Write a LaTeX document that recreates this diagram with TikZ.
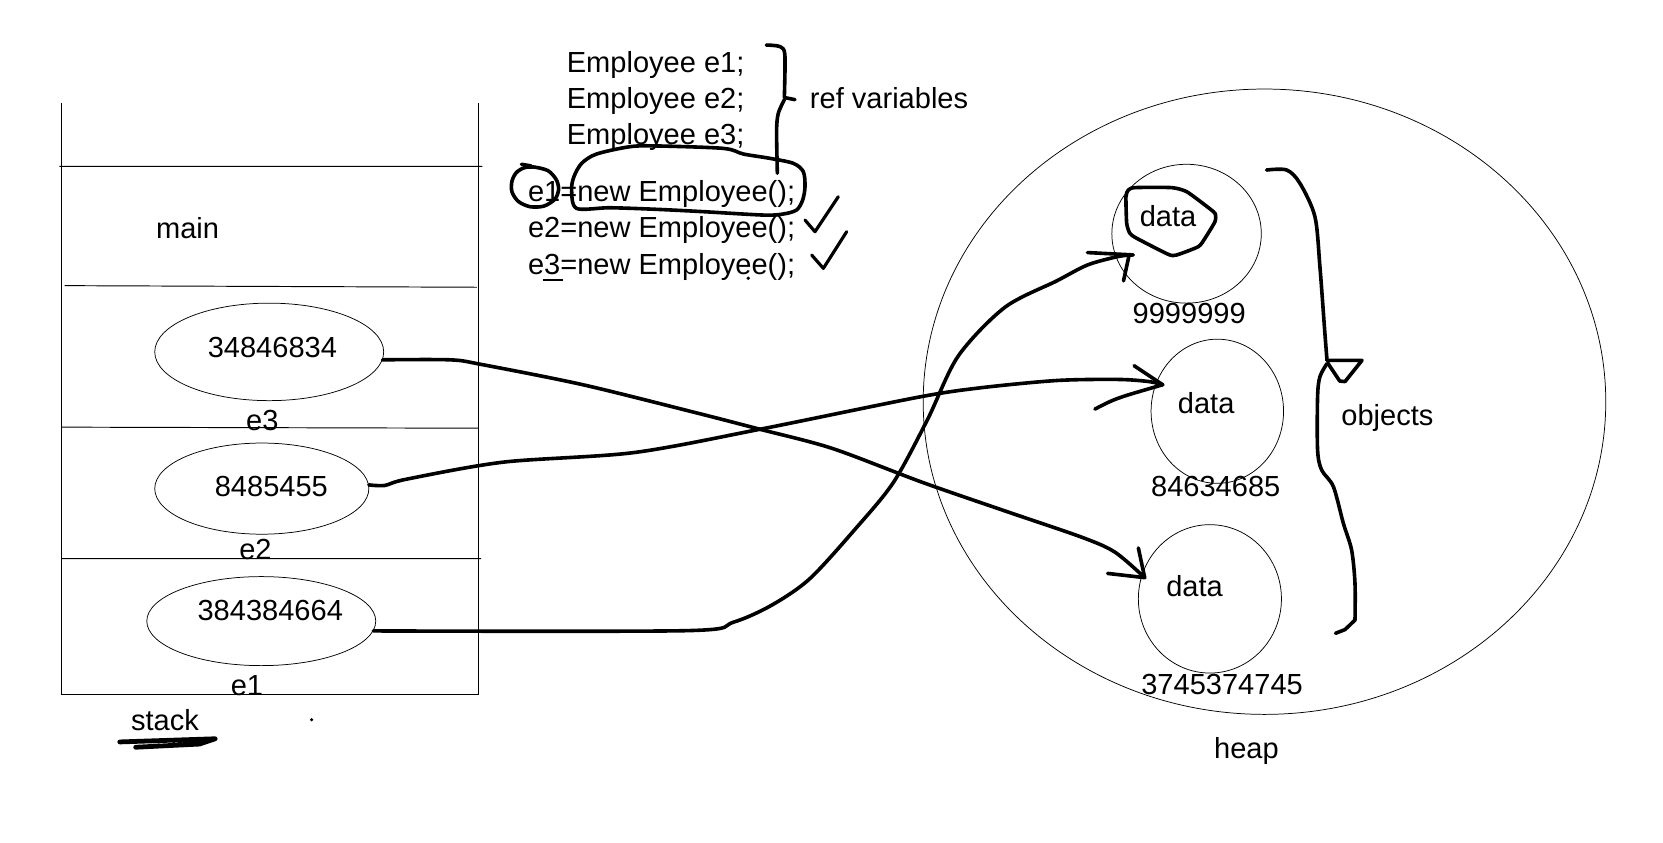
\documentclass[tikz,border=0pt]{standalone}
\usepackage{fontspec}
\setmainfont{Liberation Sans}
\usetikzlibrary{shapes.geometric}
\begin{document}
\begin{tikzpicture}[x=1pt,y=-1pt,
    every node/.style={inner sep=0pt,font=\fontsize{27.4}{33}\selectfont},
    stackline/.style={line width=0.9pt},
    ring/.style={draw,ellipse,line width=0.7pt},
    inkpen/.style={line width=3.4pt,line cap=round,line join=round}]
  \useasboundingbox (0,0) rectangle (1569,795);
  % stack
  \draw[stackline] (58,97) -- (58,655) -- (451.3,655) -- (451.3,97);
  \draw[stackline] (56,157) -- (455,157) (61,269.5) -- (450,271)
  (58,403) -- (451,404) (58,527) -- (454,527);
  \node (main) at (177,215) {main};
  \node[ring,minimum width=216pt,minimum height=92pt] (s3) at (254,332) {};
  \node[ring,minimum width=202pt,minimum height=86pt] (s2) at (247,461) {};
  \node[ring,minimum width=216pt,minimum height=84pt] (s1) at (246.5,586) {};
  \node (v3) at (257,328) {34846834};
  \node (v2) at (256,459) {8485455};
  \node (v1) at (255,576) {384384664};
  \node (e3) at (247.5,397) {e3};
  \node (e2) at (241,518) {e2};
  \node (e1) at (233,646.5) {e1};
  \node (stack) at (155.7,679) {stack};
  \draw[inkpen,line width=4.5pt] (113,700) -- (203,697) -- (188,702) -- (128,705);
  \fill (294,679) circle (1.6pt);
  % code
  \node[anchor=base west] (decl1) at (534.6,68.6) {Employee e1;};
  \node[anchor=base west] (decl2) at (534.6,102.8) {Employee e2;};
  \node[anchor=base west] (decl3) at (534.6,136.8) {Employee e3;};
  \node[anchor=base west] (init1) at (498,190) {e1=new Employee();};
  \node[anchor=base west] (init2) at (498,224.5) {e2=new Employee();};
  \node[anchor=base west] (init3) at (498,259) {e3=new Employee();};
  \node[anchor=base west] (refvars) at (764,102.8) {ref variables};
  \draw[inkpen] plot[smooth,tension=.5] coordinates {(723,42.5) (736,44)
    (740.5,52) (740,92)} -- (750,94);
  \draw[inkpen] plot[smooth,tension=.5] coordinates {(740,94) (734.3,107)
    (732.7,123) (733.4,163.5)};
  \draw[inkpen] plot[smooth cycle] coordinates {(503,157.5) (517,161)
    (525,169.8) (527,179) (523.5,188) (513,194.5) (500,195) (489,190)
    (483,181) (483,171) (487,163) (494,158.5)};
  \draw[inkpen] (492,155) -- (501,156.5);
  \draw[inkpen] plot[smooth cycle] coordinates {(544,196.6) (539.3,179.3)
    (541.5,166.7) (548.8,154.1) (562.9,145.3) (594.4,138.4) (619.5,137.7)
    (682.4,140) (701.3,145.3) (726.4,149.4) (748.5,154.1) (757.9,162)
    (759.5,176.1) (757.3,188.7) (751.6,198.1) (739,201.9) (720.2,202.9)
    (663.6,199.7) (619.5,197.5) (575.5,196)};
  \draw[inkpen,line width=3pt] (759.5,207.6) -- (768.9,218.6) -- (790.9,185.6);
  \draw[inkpen,line width=3pt] (765.8,240.6) -- (776.8,253.2) -- (798.8,218.6);
  \draw[line width=2.4pt] (512,264) -- (531,264);
  \fill (706,262.5) circle (1.8pt);
  % heap
  \node[ring,minimum width=644pt,minimum height=590pt] (heap) at (1193,379) {};
  \node[ring,minimum width=141pt,minimum height=131pt] (o1) at (1119.5,220.5) {};
  \node[ring,minimum width=125pt,minimum height=136pt] (o2) at (1148.5,388) {};
  \node[ring,minimum width=135pt,minimum height=140pt] (o3) at (1141.5,565) {};
  \node (d1) at (1102,204) {data};
  \node (d2) at (1138,380) {data};
  \node (d3) at (1127,553) {data};
  \node (a1) at (1122,296) {9999999};
  \node (a2) at (1147,459) {84634685};
  \node (a3) at (1153,646) {3745374745};
  \node (heaplabel) at (1176,709) {heap};
  \node (objects) at (1309,394) {objects};
  \draw[inkpen] plot[smooth cycle,tension=.35] coordinates {(1064.5,179.3)
    (1070.8,177) (1105.4,177) (1119.5,180.8) (1136.8,193.4) (1146.3,201.3)
    (1146.3,209.1) (1136.8,224.9) (1130.6,232.7) (1110,240.6) (1102.3,240)
    (1072.4,224.8) (1066,220.1) (1063,210.7) (1062.3,185.5)};
  \draw[inkpen] plot[smooth,tension=.5] coordinates {(1195,160.4) (1214,160.4)
    (1226.5,173) (1240.6,204.4) (1245.3,251.6) (1250,314.5) (1252,340)};
  \draw[inkpen] (1252,340) -- (1285,340) -- (1269,360) -- (1264,359.5) -- (1253,343);
  \draw[inkpen] plot[smooth,tension=.5] coordinates {(1252,343) (1245.3,355.4)
    (1243.1,374.2) (1243.1,424.5) (1246.9,443.4) (1258,459.1) (1267.4,493.7)
    (1275.2,518.9) (1278.4,550.4) (1278.4,585)} -- (1269,594) -- (1260,597.5);
  % references
  \coordinate (hit1) at (1069,240.5);
  \coordinate (hit2) at (1097,363);
  \coordinate (hit3) at (1080,545);
  \draw[inkpen] plot[smooth] coordinates {(s3.-4) (425,339.5) (455,344) (550,363)
    (655,389) (717,405) (785,423) (870,455) (948,482) (1021,507) (1052,521) (hit3)};
  \draw[inkpen] (1074,517) -- (hit3) -- (1045,541);
  \draw[inkpen] plot[smooth] coordinates {(s2.2) (363,458) (384,452) (475,436)
    (598,427) (717,405) (865,375) (924,366) (997,359) (1055,358) (1084,360) (hit2)};
  \draw[inkpen] (1070,345) -- (hit2);
  \draw[inkpen] (1033,386) .. controls (1052,376) .. (hit2);
  \draw[inkpen] plot[smooth] coordinates {(s1.-5) (648,595) (692,587) (728,571)
    (764,546) (807,499) (843,455) (875,396) (904,336) (948,290) (997,265)
    (1026,250) (1055,242) (hit1)};
  \draw[inkpen] (1026,238.3) -- (hit1);
  \draw[inkpen] (1060,265) -- (1065,242);
\end{tikzpicture}
\end{document}
